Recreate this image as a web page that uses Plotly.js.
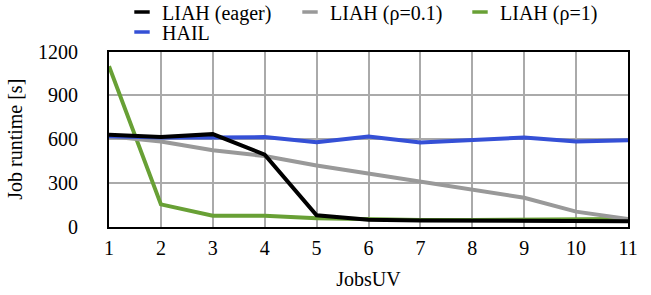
<!DOCTYPE html>
<html><head><meta charset="utf-8">
<script src="https://cdn.plot.ly/plotly-3.0.1.min.js"></script>
<style>html,body{margin:0;padding:0;background:#fff}</style>
</head><body><div id="c" style="width:651px;height:295px"></div>
<script>
var jobs = [1,2,3,4,5,6,7,8,9,10,11];
var liahEager = [630,615,635,495,80,50,45,45,45,40,40];
var liahRho01 = [620,585,525,485,420,365,310,255,200,105,55];
var liahRho1 = [1100,155,77,77,60,52,48,48,50,55,55];
var hail = [620,612,612,615,580,618,578,597,612,584,594];
var names = ['LIAH (eager)','LIAH (ρ=0.1)','LIAH (ρ=1)','HAIL'];
var colors = ['#000000','#999999','#68a035','#3550d6'];
var series = [liahEager, liahRho01, liahRho1, hail];
var order = [2,1,3,0];
var legIds = ['legend','legend2','legend3','legend4'];
var traces = [];
order.forEach(function(i){
  traces.push({x:jobs, y:series[i], mode:'lines', line:{color:colors[i], width:4}, showlegend:false, hoverinfo:'skip'});
});
for (var i=0;i<4;i++){
  traces.push({x:[null], y:[null], name:names[i], mode:'markers', legend: legIds[i],
    marker:{symbol:'line-ew', size:11, line:{width:3.5, color:colors[i]}, color:colors[i]}});
}
var font = {family:'Liberation Serif, DejaVu Serif', size:20, color:'#000'};
var legBase = {orientation:'h', xref:'container', yref:'container', xanchor:'left', yanchor:'middle',
  itemwidth:30, font:font, bgcolor:'rgba(0,0,0,0)'};
var layout = {
  width:651, height:295,
  margin:{l:109, r:23, t:46, b:68},
  paper_bgcolor:'#fff', plot_bgcolor:'#fff',
  font:font,
  showlegend:true,
  legend:Object.assign({}, legBase, {x:122/651, y:1-12/295}),
  legend2:Object.assign({}, legBase, {x:290/651, y:1-12/295}),
  legend3:Object.assign({}, legBase, {x:460/651, y:1-12/295}),
  legend4:Object.assign({}, legBase, {x:122/651, y:1-32/295}),
  xaxis:{range:[1,11], dtick:1, tick0:1, showgrid:true, gridcolor:'#aaaaaa', gridwidth:2,
    showline:true, mirror:true, linecolor:'#000', linewidth:2, zeroline:false,
    ticks:'outside', ticklen:0, ticklabelstandoff:2,
    title:{text:'JobsUV', font:font, standoff:14}, automargin:false},
  yaxis:{range:[0,1200], dtick:300, tick0:0, showgrid:true, gridcolor:'#aaaaaa', gridwidth:2,
    showline:true, mirror:true, linecolor:'#000', linewidth:2, zeroline:false,
    ticks:'outside', ticklen:0, ticklabelstandoff:25,
    title:{text:'Job runtime [s]', font:font, standoff:10}, automargin:false}
};
Plotly.newPlot('c', traces, layout, {displayModeBar:false, staticPlot:true});
</script></body></html>
